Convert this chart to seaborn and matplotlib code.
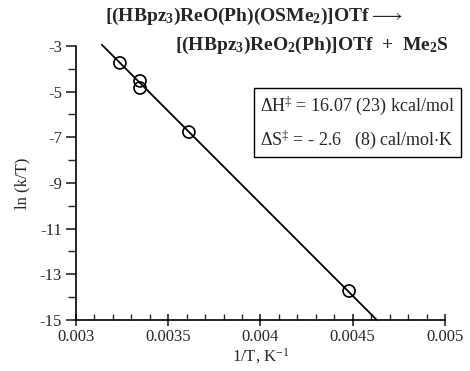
import numpy as np
import pandas as pd
import matplotlib
matplotlib.use('Agg')
import matplotlib.pyplot as plt
from matplotlib.ticker import MultipleLocator
import seaborn as sns

# datos
inv_T = [0.003238, 0.003347, 0.003347, 0.003612, 0.004480]
ln_kT = [-3.74, -4.53, -4.84, -6.77, -13.73]

# parametros de activacion (Eyring)
dH = 16.07      # kcal/mol
dS = -2.6       # cal/mol K
R = 1.987e-3    # kcal/mol K
ln_kB_h = 23.76
rango_x = [0.00314, 0.00463]

sns.set_style('ticks')
plt.rcParams['font.family'] = ['Liberation Serif', 'DejaVu Serif']
plt.rcParams['mathtext.fontset'] = 'custom'
plt.rcParams['mathtext.rm'] = 'Liberation Serif'
plt.rcParams['mathtext.bf'] = 'Liberation Serif:bold'
plt.rcParams['mathtext.default'] = 'regular'
plt.rcParams['axes.unicode_minus'] = False

puntos = pd.DataFrame({'x': inv_T, 'y': ln_kT})
x_fit = np.array(rango_x)
ajuste = pd.DataFrame({'x': x_fit, 'y': ln_kB_h + dS / 1000 / R - dH / R * x_fit})

fig = plt.figure(figsize=(4.70, 3.71), dpi=100)
ax = fig.add_axes([0.1617, 0.1375, 0.7851, 0.7385])

sns.lineplot(data=ajuste, x='x', y='y', color='black', linewidth=1.3, ax=ax)
ax.lines[-1].set_clip_on(False)
sns.scatterplot(data=puntos, x='x', y='y', marker='o', s=75, facecolor='none',
                edgecolor='black', linewidth=1.2, ax=ax, zorder=3)

ax.set_xlim(0.003, 0.005)
ax.set_ylim(-15, -3)
ax.set_xticks([0.003, 0.0035, 0.004, 0.0045, 0.005])
ax.set_xticklabels(['0.003', '0.0035', '0.004', '0.0045', '0.005'])
ax.xaxis.set_minor_locator(MultipleLocator(0.0001))
ax.set_yticks([-3, -5, -7, -9, -11, -13, -15])
ax.yaxis.set_minor_locator(MultipleLocator(1))
ax.tick_params(axis='x', which='major', direction='inout', length=9, width=1.2, labelsize=12, pad=2)
ax.tick_params(axis='x', which='minor', direction='in', length=4, width=1.0)
ax.tick_params(axis='y', which='major', direction='out', length=7, width=1.2, labelsize=12, pad=3)
ax.tick_params(axis='y', which='minor', direction='out', length=6, width=1.0)
for s in ['left', 'bottom']:
    ax.spines[s].set_linewidth(1.2)
    ax.spines[s].set_color('black')
sns.despine(ax=ax)

ax.set_xlabel('1/T, K$^{-1}$', fontsize=12, labelpad=1)
ax.set_ylabel('ln (k/T)', fontsize=12, labelpad=7)

fig.text(0.223, 0.955, r'[(HBpz$_\mathbf{3}$)ReO(Ph)(OSMe$_\mathbf{2}$)]OTf$\longrightarrow$',
         fontsize=14, fontweight='bold', ha='left', va='center')
fig.text(0.372, 0.878, r'[(HBpz$_\mathbf{3}$)ReO$_\mathbf{2}$(Ph)]OTf  +  Me$_\mathbf{2}$S',
         fontsize=14, fontweight='bold', ha='left', va='center')

fig.text(0.553, 0.745,
         'ΔH$^‡$ = 16.07 (23) kcal/mol\n\nΔS$^‡$ = - 2.6   (8) cal/mol$\\cdot$K',
         fontsize=13, ha='left', va='top', linespacing=0.8,
         bbox=dict(boxstyle='square,pad=0.35', facecolor='white', edgecolor='black', linewidth=1.0))

fig.savefig('out.png', dpi=100)
